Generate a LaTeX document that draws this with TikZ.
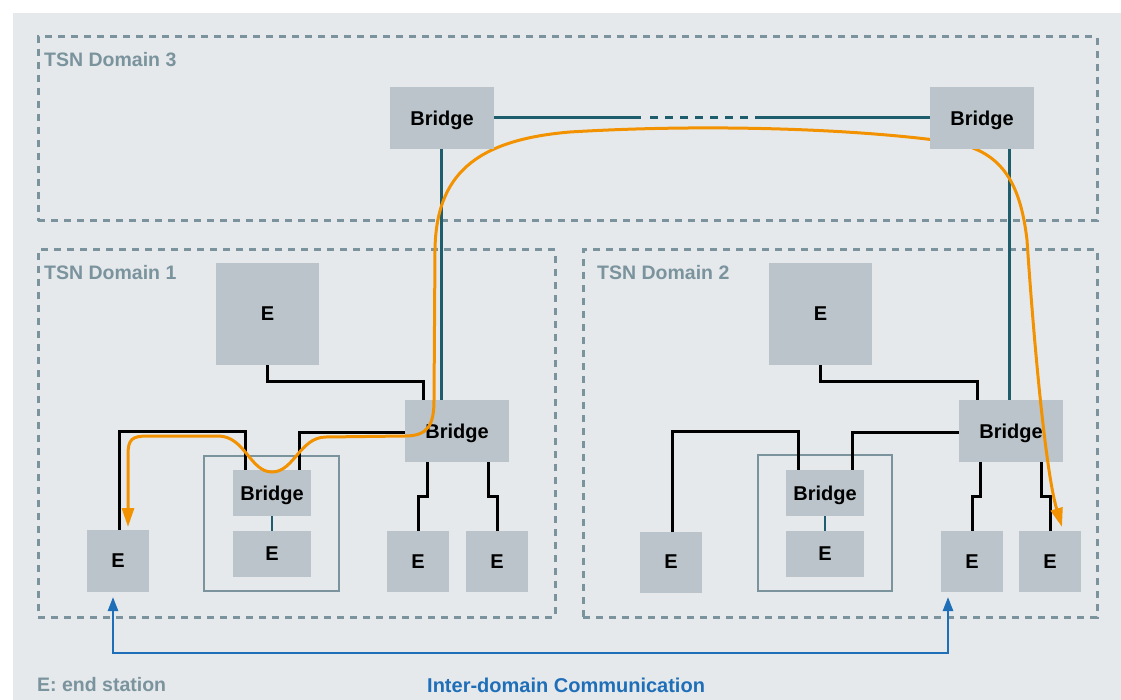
\documentclass[tikz,border=0pt]{standalone}
\usepackage{fontspec}
\setmainfont{Liberation Sans}
\usetikzlibrary{arrows.meta,calc}
\definecolor{panelc}{RGB}{229,233,236}
\definecolor{boxc}{RGB}{186,196,202}
\definecolor{domc}{RGB}{122,147,157}
\definecolor{tealc}{RGB}{30,93,107}
\definecolor{orangec}{RGB}{243,146,0}
\definecolor{bluec}{RGB}{31,110,184}
\pgfdeclarelayer{front}
\pgfsetlayers{main,front}
\tikzset{
  graybox/.style={fill=boxc, inner sep=0pt, outer sep=0pt, text depth=0pt, font=\fontsize{20}{22}\selectfont\bfseries, text=black},
  tsndomain/.style={draw=domc, line width=3pt, dash pattern=on 7pt off 6pt, inner sep=0pt, outer sep=0pt},
  domlabel/.style={anchor=west, inner sep=0pt, text=domc, font=\fontsize{19.5}{22}\selectfont\bfseries},
  grpbox/.style={draw=domc, line width=2.8pt, inner sep=0pt, outer sep=0pt},
  blk/.style={draw=black, line width=3pt},
  tealline/.style={draw=tealc, line width=3pt},
  flowline/.style={draw=orangec, line width=3pt, {Triangle[length=19pt,width=12pt]}-{Triangle[length=19pt,width=12pt]}},
  commline/.style={draw=bluec, line width=2.5pt, {Triangle[length=14pt,width=10pt]}-{Triangle[length=14pt,width=10pt]}},
}
\begin{document}
\begin{tikzpicture}[x=1pt,y=-1pt]
\useasboundingbox (0,0) rectangle (1121,700);
\fill[white] (0,0) rectangle (1121,700);
\fill[panelc] (13,13) rectangle (1121,700);

% domains
\node[tsndomain, minimum width=1059pt, minimum height=184pt] (dom3) at (567.5,129) {};
\node[tsndomain, minimum width=517pt, minimum height=367pt] (dom1) at (296.5,433.5) {};
\node[tsndomain, minimum width=514pt, minimum height=367pt] (dom2) at (840,433.5) {};
\node[domlabel] (lab3) at (44,60) {TSN Domain 3};
\node[domlabel] (lab1) at (44,273) {TSN Domain 1};
\node[domlabel] (lab2) at (597,273) {TSN Domain 2};

% domain 3 bridges (front layer)
\begin{pgfonlayer}{front}
\node[graybox, minimum width=104pt, minimum height=62pt] (b3L) at (442,118) {Bridge};
\node[graybox, minimum width=104pt, minimum height=62pt] (b3R) at (982,118) {Bridge};
\end{pgfonlayer}

% domain 1
\node[grpbox, minimum width=135pt, minimum height=135pt] (grp1) at (271.5,523.5) {};
\node[graybox, minimum width=103pt, minimum height=102pt] (e1top) at (267.5,314) {E};
\node[graybox, minimum width=104pt, minimum height=62pt] (b1) at (457,431) {Bridge};
\node[graybox, minimum width=78pt, minimum height=46pt] (ib1) at (272,493) {Bridge};
\node[graybox, minimum width=78pt, minimum height=46pt] (ie1) at (272,554) {E};
\node[graybox, minimum width=62pt, minimum height=62pt] (e1a) at (118,561) {E};
\node[graybox, minimum width=62pt, minimum height=61pt] (e1b) at (418,561.5) {E};
\node[graybox, minimum width=62pt, minimum height=61pt] (e1c) at (497,561.5) {E};

% domain 2
\node[grpbox, minimum width=134pt, minimum height=136pt] (grp2) at (825,523) {};
\node[graybox, minimum width=103pt, minimum height=102pt] (e2top) at (820.5,314) {E};
\node[graybox, minimum width=104pt, minimum height=62pt] (b2) at (1011,431) {Bridge};
\node[graybox, minimum width=78pt, minimum height=46pt] (ib2) at (825,493) {Bridge};
\node[graybox, minimum width=78pt, minimum height=46pt] (ie2) at (825,554) {E};
\node[graybox, minimum width=62pt, minimum height=61pt] (e2a) at (671,562) {E};
\node[graybox, minimum width=62pt, minimum height=61pt] (e2b) at (972,561.5) {E};
\node[graybox, minimum width=62pt, minimum height=61pt] (e2c) at (1050,561.5) {E};

% teal links
\coordinate (gapA) at ($(b3L.east)+(147,0)$);
\coordinate (gapB) at ($(b3R.west)+(-173,0)$);
\draw[tealline] (b3L.east) -- (gapA);
\draw[tealline, dash pattern=on 8pt off 7pt] ([xshift=9pt]gapA) -- (gapB);
\draw[tealline] (gapB) -- (b3R.west);
\draw[tealline] ([xshift=-1pt]b3L.south) -- ([xshift=-1pt]b3L.south |- b1.north);
\draw[tealline] ([xshift=-2pt]b2.north |- b3R.south) -- ([xshift=-2pt]b2.north);
\draw[tealline, line width=2.5pt] (ib1.south) -- (ie1.north);
\draw[tealline, line width=2.5pt] (ib2.south) -- (ie2.north);

% black links domain 1
\draw[blk] (e1top.south) -- ++(0,16) -| ([xshift=18pt]b1.north west);
\draw[blk] ([xshift=1pt]e1a.north) -- ++(0,-99) -| ([xshift=12pt]ib1.north west);
\draw[blk] ([yshift=-1pt]b1.west) -| ([xshift=-12pt]ib1.north east);
\draw[blk] ([xshift=22pt]b1.south west) -- ++(0,34) -| (e1b.north);
\draw[blk] ([xshift=-21pt]b1.south east) -- ++(0,34) -| (e1c.north);

% black links domain 2
\draw[blk] (e2top.south) -- ++(0,16) -| ([xshift=18pt]b2.north west);
\draw[blk] ([xshift=1pt]e2a.north) -- ++(0,-100) -| ([xshift=12pt]ib2.north west);
\draw[blk] ([yshift=-1pt]b2.west) -| ([xshift=-12pt]ib2.north east);
\draw[blk] ([xshift=21pt]b2.south west) -- ++(0,34) -| (e2b.north);
\draw[blk] ([xshift=-22pt]b2.south east) -- ++(0,34) -| (e2c.north);

% orange inter-domain flow
\draw[flowline] ([xshift=10pt,yshift=3pt]e1a.north) -- (128,455)
  .. controls (128,439) and (132,436) .. (148,436)
  -- (218,436)
  .. controls (245,436) and (250,472) .. (272,472)
  .. controls (294,472) and (300,437) .. (326,437)
  -- (405,436)
  .. controls (428,436) and (434,425) .. (434,400)
  -- (435,250)
  .. controls (436,175) and (475,140) .. (570,132)
  .. controls (700,124) and (850,128) .. (950,142)
  .. controls (1000,150) and (1020,180) .. (1027,240)
  .. controls (1033,330) and (1045,470) .. ([xshift=12pt,yshift=4pt]e2c.north);

% blue communication arrow
\draw[commline] ([xshift=-5pt,yshift=-5pt]e1a.south) -- ++(0,56) -| ([xshift=-24pt,yshift=-5pt]e2b.south);

% legend
\node[anchor=west, inner sep=0pt, text=domc, font=\fontsize{19.5}{22}\selectfont\bfseries] (legend) at (37,685) {E: end station};
\node[anchor=west, inner sep=0pt, text=bluec, font=\fontsize{20}{22}\selectfont\bfseries] (commlabel) at (427,685) {Inter-domain Communication};
\end{tikzpicture}
\end{document}
